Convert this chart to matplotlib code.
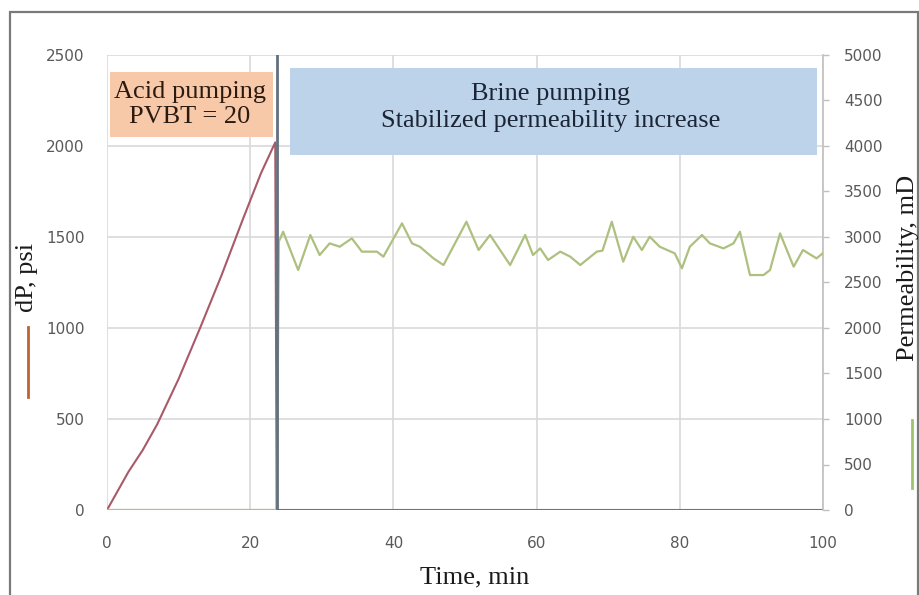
import matplotlib
matplotlib.use("Agg")
import matplotlib.pyplot as plt
from matplotlib.patches import Rectangle
from matplotlib.lines import Line2D

# data
dp_time = [0, 1, 3, 5, 7, 10, 13, 16, 19, 21.5, 23.5, 23.7, 100]
dp_psi = [0, 70, 210, 330, 470, 720, 1000, 1290, 1600, 1850, 2020, 0, 0]

perm_time = [0, 23.7, 24.0, 24.6, 26.7, 28.4, 29.7, 31.1, 32.5, 34.2, 35.6, 37.7,
             38.6, 41.2, 42.6, 43.7, 45.6, 47.0, 50.2, 51.9, 53.5, 56.3, 58.4,
             59.5, 60.5, 61.6, 63.3, 64.7, 66.1, 68.4, 69.2, 70.5, 72.1, 73.5,
             74.7, 75.8, 77.2, 79.3, 80.3, 81.4, 83.1, 84.2, 86.1, 87.5, 88.4,
             89.8, 91.7, 92.6, 94.0, 95.9, 97.2, 99.1, 100]
perm_md = [0, 0, 2950, 3058, 2637, 3022, 2802, 2930, 2893, 2985, 2839, 2839,
           2784, 3150, 2930, 2893, 2765, 2692, 3168, 2857, 3022, 2692, 3022,
           2802, 2875, 2747, 2839, 2784, 2692, 2839, 2850, 3168, 2729, 3003,
           2857, 3003, 2893, 2820, 2656, 2893, 3022, 2930, 2875, 2930, 3058,
           2582, 2582, 2637, 3040, 2674, 2857, 2765, 2824]

switch_time = 23.7
x_ticks = [0, 20, 40, 60, 80, 100]
dp_ticks = [0, 500, 1000, 1500, 2000, 2500]
perm_ticks = [0, 500, 1000, 1500, 2000, 2500, 3000, 3500, 4000, 4500, 5000]

acid_text = "Acid pumping\nPVBT = 20"
brine_text = "Brine pumping\nStabilized permeability increase"

SERIF = ["Liberation Serif", "DejaVu Serif"]
TICK_COLOR = "#595959"
GRID = "#d9d9d9"

fig = plt.figure(figsize=(9.2, 5.95), dpi=100)
ax = fig.add_axes([107 / 920, 1 - 510 / 595, 716 / 920, 455 / 595])
ax2 = ax.twinx()

ax.set_xlim(0, 100)
ax.set_ylim(0, 2500)
ax2.set_ylim(0, 5000)

ax.set_xticks(x_ticks)
ax.set_yticks(dp_ticks)
ax2.set_yticks(perm_ticks)
ax.grid(True, color=GRID, lw=1.2)
ax.set_axisbelow(True)

for s in ax.spines.values():
    s.set_visible(False)
for k, s in ax2.spines.items():
    s.set_visible(k == "right")
ax2.spines["right"].set_color("#bfbfbf")
ax2.spines["right"].set_linewidth(1.2)

ax.tick_params(axis="x", length=0, pad=19, labelsize=11, labelcolor=TICK_COLOR)
ax.tick_params(axis="y", length=0, pad=16, labelsize=11, labelcolor=TICK_COLOR)
ax2.tick_params(axis="y", length=4, width=1, color="#bfbfbf", pad=11,
                labelsize=11, labelcolor=TICK_COLOR)

ax.plot(dp_time, dp_psi, color="#a85a68", lw=1.5, zorder=3)
ax2.plot(perm_time, perm_md, color="#adc080", lw=1.6, zorder=3)
ax2.axvline(switch_time, color="#627080", lw=2, zorder=4)

# annotation boxes
ax2.add_patch(Rectangle((0.004, 0.820), 0.228, 0.143, transform=ax2.transAxes,
                        facecolor="#f8c9a9", edgecolor="none", zorder=5))
ax2.text(0.116, 0.891, acid_text, transform=ax2.transAxes, ha="center",
         va="center", fontsize=19, family=SERIF, color="#2a1a10",
         linespacing=1.15, zorder=6)
ax2.add_patch(Rectangle((0.2556, 0.780), 0.736, 0.191, transform=ax2.transAxes,
                        facecolor="#bcd3ea", edgecolor="none", zorder=5))
ax2.text(0.620, 0.885, brine_text, transform=ax2.transAxes, ha="center",
         va="center", fontsize=19, family=SERIF, color="#1c2535",
         linespacing=1.3, zorder=6)

# axis titles with their small colour keys
fig.text(475 / 920, 1 - 577 / 595, "Time, min", ha="center", va="center",
         fontsize=19, family=SERIF, color="#1a1a1a")
fig.text(27 / 920, 1 - 277 / 595, "dP, psi", ha="center", va="center",
         rotation=90, fontsize=19, family=SERIF, color="#1a1a1a")
fig.add_artist(Line2D([28 / 920, 28 / 920], [1 - 327 / 595, 1 - 397 / 595],
                      transform=fig.transFigure, color="#c0622f", lw=2))
fig.text(908 / 920, 1 - 268 / 595, "Permeability, mD", ha="center",
         va="center", rotation=90, fontsize=19, family=SERIF, color="#1a1a1a")
fig.add_artist(Line2D([912 / 920, 912 / 920], [1 - 420 / 595, 1 - 488 / 595],
                      transform=fig.transFigure, color="#9cc46c", lw=2))

# outer frame of the picture
fig.add_artist(Rectangle((10 / 920, -0.02), 908 / 920, 1 - 12 / 595 + 0.02,
                         transform=fig.transFigure, fill=False,
                         edgecolor="#7a7a7a", lw=1.6))

fig.savefig("out.png", dpi=100)
